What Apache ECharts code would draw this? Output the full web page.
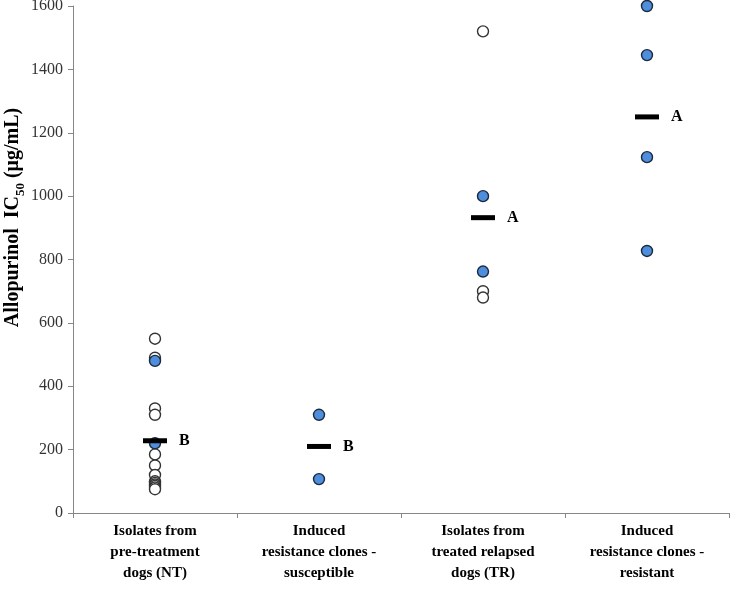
<!DOCTYPE html>
<html>
<head>
<meta charset="utf-8">
<script src="https://cdn.jsdelivr.net/npm/echarts@6/dist/echarts.min.js"></script>
<style>html,body{margin:0;padding:0;background:#fff;}#c{width:731px;height:598px;}</style>
</head>
<body>
<div id="c"></div>
<script>
var categories = [
  'Isolates from\npre-treatment\ndogs (NT)',
  'Induced\nresistance clones -\nsusceptible',
  'Isolates from\ntreated relapsed\ndogs (TR)',
  'Induced\nresistance clones -\nresistant'
];
// open (white) circles per group
var openNT = [550, 490, 330, 310, 185, 150, 120, 100, 95, 90, 85, 80, 75];
var openSus = [];
var openTR = [1520, 700, 680];
var openRes = [];
// filled (blue) circles per group
var blueNT = [480, 220];
var blueSus = [310, 107];
var blueTR = [1000, 762];
var blueRes = [1600, 1445, 1123, 827];
// group means and significance letters
var means = [228, 210, 932, 1250];
var letters = ['B', 'B', 'A', 'A'];
var yTicks = [0, 200, 400, 600, 800, 1000, 1200, 1400, 1600];

function toPts(groups) {
  var out = [];
  groups.forEach(function (g, i) { g.forEach(function (v) { out.push([i, v]); }); });
  return out;
}
var openData = toPts([openNT, openSus, openTR, openRes]);
var blueData = toPts([blueNT, blueSus, blueTR, blueRes]);
var meanData = means.map(function (m, i) { return { value: [i, m], letter: letters[i] }; });

var serif = '"Liberation Serif", "Times New Roman", serif';
var chart = echarts.init(document.getElementById('c'));
chart.setOption({
  animation: false,
  grid: { left: 73, right: 2, top: 6, bottom: 85, containLabel: false, outerBoundsMode: 'none' },
  xAxis: {
    type: 'category',
    data: categories,
    boundaryGap: true,
    axisLine: { lineStyle: { color: '#868686', width: 1 } },
    axisTick: { show: true, length: 5, lineStyle: { color: '#868686' } },
    axisLabel: {
      interval: 0, margin: 8,
      fontFamily: serif, fontWeight: 'bold', fontSize: 15, color: '#000',
      lineHeight: 21
    },
    splitLine: { show: false }
  },
  yAxis: {
    type: 'value',
    min: 0, max: 1600, interval: 200,
    axisLine: { show: true, lineStyle: { color: '#868686', width: 1 } },
    axisTick: { show: true, length: 5, lineStyle: { color: '#868686' } },
    axisLabel: {
      fontFamily: serif, fontSize: 16, color: '#333333', margin: 10,
      formatter: function (v) { return yTicks.indexOf(v) >= 0 ? String(v) : ''; }
    },
    splitLine: { show: false },
    name: '{a|Allopurinol  IC}{s|50}{a| (μg/mL)}',
    nameLocation: 'middle',
    nameGap: 50,
    nameMoveOverlap: false,
    nameRotate: 90,
    nameTextStyle: {
      padding: [0, 0, 0, 84],
      rich: {
        a: { fontFamily: serif, fontWeight: 'bold', fontSize: 20, color: '#000', lineHeight: 24, verticalAlign: 'bottom' },
        s: { fontFamily: serif, fontWeight: 'bold', fontSize: 13, color: '#000', lineHeight: 24, verticalAlign: 'bottom', padding: [0, 0, -4, 0] }
      }
    }
  },
  series: [
    {
      type: 'scatter', data: openData, symbol: 'circle', symbolSize: 11,
      itemStyle: { color: '#ffffff', borderColor: '#333333', borderWidth: 1.4, opacity: 1 },
      z: 2
    },
    {
      type: 'scatter', data: blueData, symbol: 'circle', symbolSize: 11,
      itemStyle: { color: '#4F8EDC', borderColor: '#1c2a3d', borderWidth: 1.4, opacity: 1 },
      z: 3
    },
    {
      type: 'scatter', data: meanData, symbol: 'rect', symbolSize: [24, 5],
      itemStyle: { color: '#000', opacity: 1 },
      label: {
        show: true, position: 'right', distance: 12,
        formatter: function (p) { return p.data.letter; },
        fontFamily: serif, fontWeight: 'bold', fontSize: 16, color: '#000'
      },
      z: 4
    }
  ]
});
</script>
</body>
</html>
